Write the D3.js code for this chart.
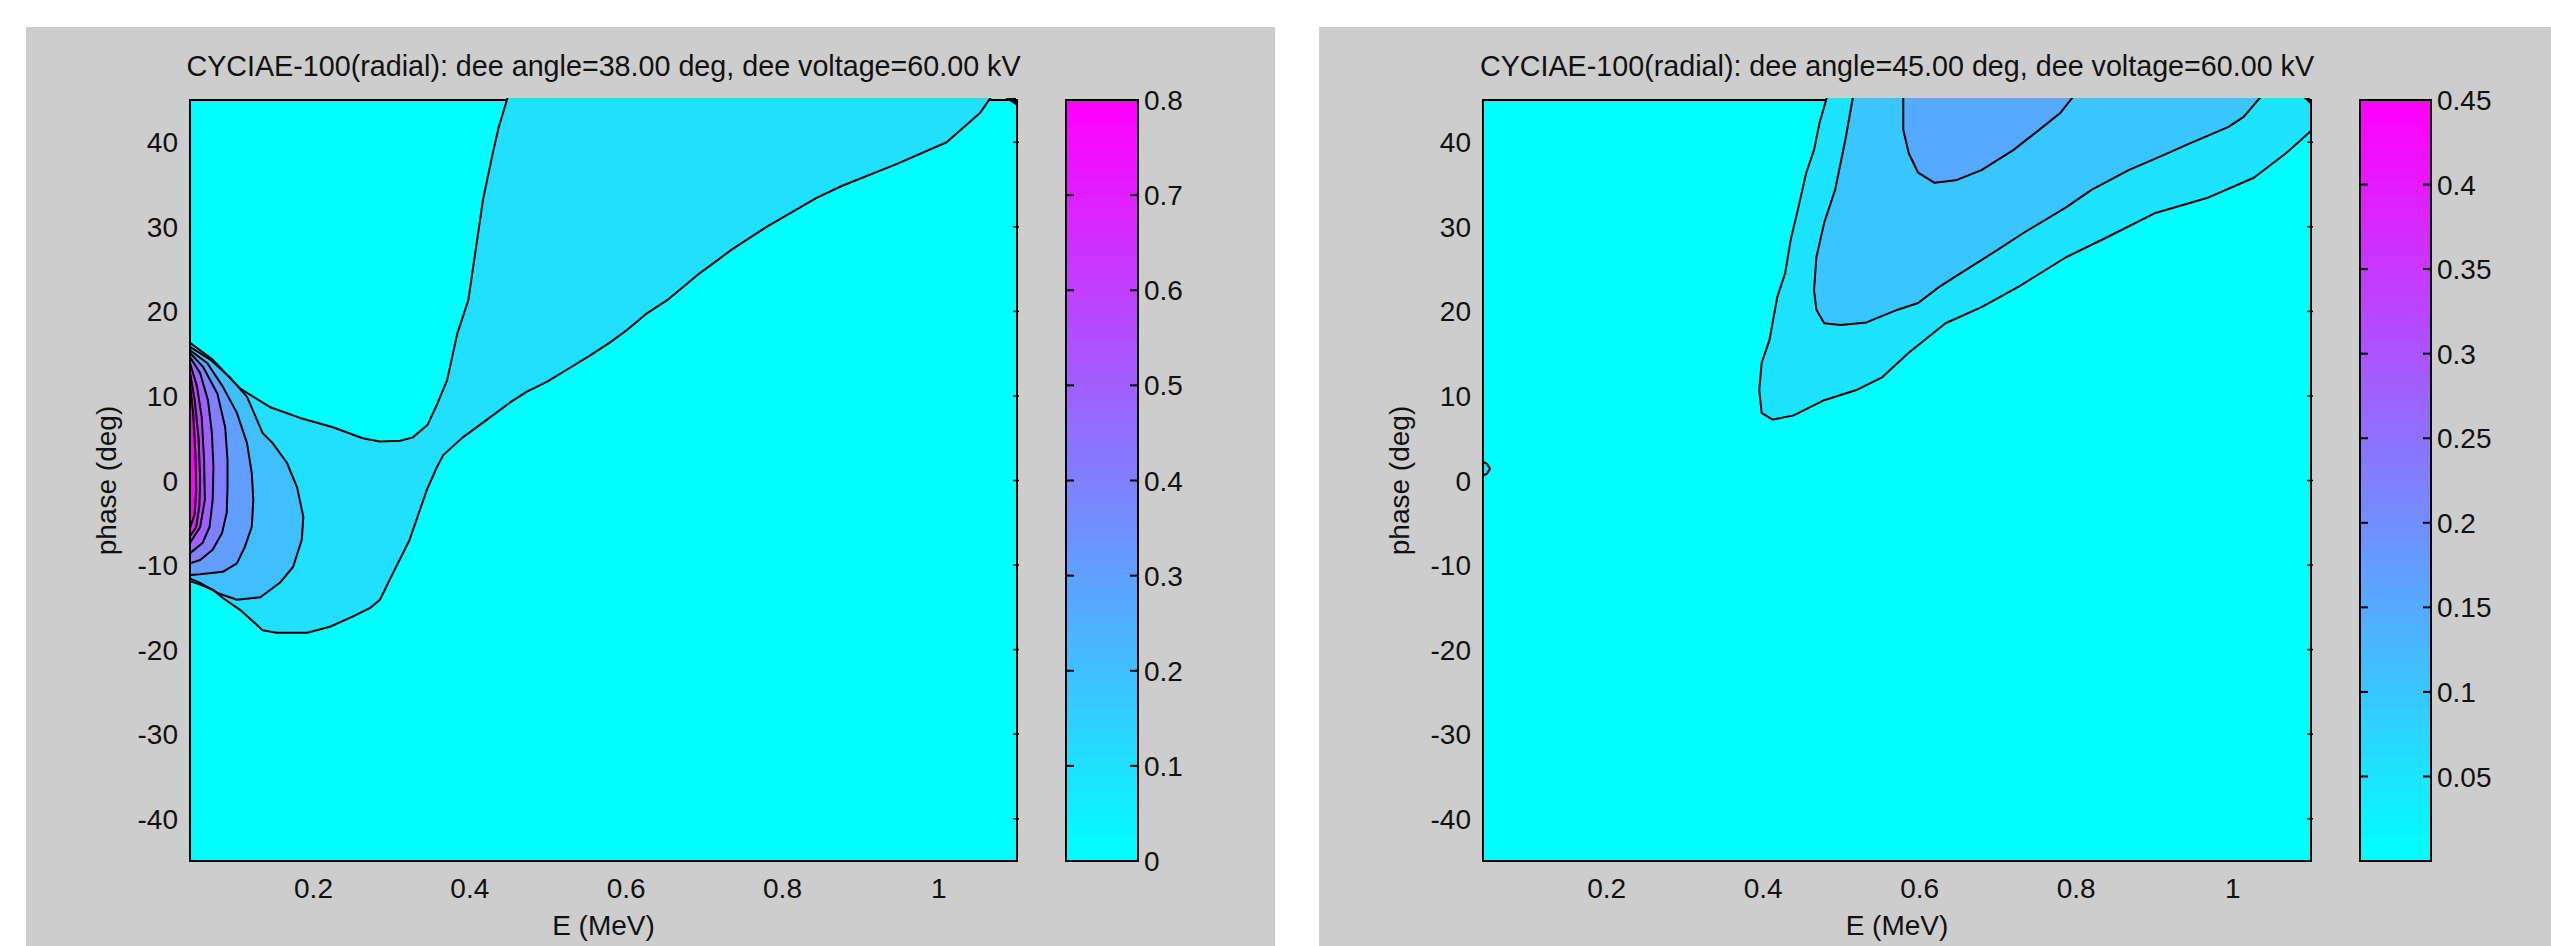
<!DOCTYPE html>
<html>
<head>
<meta charset="utf-8">
<script src="https://cdn.jsdelivr.net/npm/d3@7"></script>
<style>
body { margin: 0; background: #fff; }
text { font-family: "Liberation Sans", Arial, sans-serif; fill: #111; }
</style>
</head>
<body>
<svg id="chart" width="2551" height="946"></svg>
<script>
// ---- data ----
// axes
var eTicks = [0.2, 0.4, 0.6, 0.8, 1];
var phaseTicks = [-40, -30, -20, -10, 0, 10, 20, 30, 40];
var eRange = [0.042, 1.1];
var phaseRange = [-45, 45];

// left chart (dee angle 38 deg), contour lines as [E, phase]
var title1 = "CYCIAE-100(radial): dee angle=38.00 deg, dee voltage=60.00 kV";
var cbMax1 = 0.8;
var cbTicks1 = [0, 0.1, 0.2, 0.3, 0.4, 0.5, 0.6, 0.7, 0.8];
var c1_010a = [[0.042,16.3],[0.071,14.3],[0.106,10.9],[0.144,8.7],[0.183,7.4],[0.225,6.3],[0.263,5.0],[0.285,4.6],[0.311,4.7],[0.327,5.1],[0.346,6.6],[0.359,9.2],[0.371,11.9],[0.384,17.4],[0.398,21.3],[0.417,33.3],[0.430,39.0],[0.437,41.8],[0.449,45.5]];
var c1_010b = [[0.042,-11.9],[0.055,-12.3],[0.071,-12.9],[0.084,-13.9],[0.106,-15.3],[0.135,-17.7],[0.153,-18.0],[0.192,-18.0],[0.221,-17.3],[0.250,-16.1],[0.272,-15.1],[0.285,-14.1],[0.302,-10.9],[0.323,-7.0],[0.345,-1.1],[0.358,1.6],[0.366,3.0],[0.391,5.1],[0.422,7.2],[0.451,9.2],[0.473,10.5],[0.499,11.7],[0.524,13.1],[0.554,14.8],[0.579,16.3],[0.601,17.8],[0.627,19.8],[0.652,21.3],[0.694,24.5],[0.735,27.3],[0.778,29.9],[0.843,33.4],[0.875,34.8],[0.948,37.5],[1.010,40.0],[1.053,43.5],[1.068,45.5]];
var c1_020 = [[0.042,15.8],[0.068,14.3],[0.093,12.2],[0.115,9.9],[0.135,5.6],[0.148,4.4],[0.166,2.1],[0.179,-0.8],[0.187,-4.3],[0.185,-7.0],[0.174,-10.2],[0.157,-12.1],[0.132,-13.8],[0.102,-14.1],[0.077,-13.3],[0.055,-12.1],[0.042,-11.6]];
var c1_030 = [[0.042,15.4],[0.064,13.9],[0.084,11.1],[0.102,8.0],[0.115,4.4],[0.121,0.9],[0.123,-2.3],[0.121,-5.5],[0.112,-7.9],[0.102,-9.8],[0.084,-10.8],[0.055,-11.1],[0.042,-11.2]];
var c1_040 = [[0.042,15.1],[0.059,13.4],[0.077,10.3],[0.087,6.3],[0.090,2.4],[0.090,-0.8],[0.089,-3.8],[0.083,-6.2],[0.071,-8.2],[0.055,-9.4],[0.042,-9.8]];
var c1_050 = [[0.042,14.6],[0.055,12.7],[0.065,9.5],[0.070,5.6],[0.072,1.6],[0.071,-2.3],[0.067,-5.5],[0.058,-7.4],[0.042,-8.6]];
var c1_060 = [[0.042,13.9],[0.051,11.1],[0.057,7.5],[0.060,2.4],[0.061,-2.3],[0.055,-5.5],[0.042,-7.4]];
var c1_070 = [[0.042,12.8],[0.048,9.5],[0.053,5.0],[0.055,0.0],[0.054,-3.0],[0.050,-5.5],[0.042,-6.6]];
var c1_080 = [[0.042,11.5],[0.046,8.0],[0.049,3.0],[0.050,-1.0],[0.048,-4.0],[0.042,-5.6]];
var spot1 = [[1.081,45.5],[1.105,45.5],[1.105,44.0]];

// right chart (dee angle 45 deg)
var title2 = "CYCIAE-100(radial): dee angle=45.00 deg, dee voltage=60.00 kV";
var cbMax2 = 0.45;
var cbTicks2 = [0.05, 0.1, 0.15, 0.2, 0.25, 0.3, 0.35, 0.4, 0.45];
var c2_005 = [[0.482,45.5],[0.472,42.3],[0.465,39.1],[0.455,36.4],[0.445,32.3],[0.435,28.4],[0.428,24.5],[0.418,21.7],[0.408,16.6],[0.398,13.9],[0.395,10.7],[0.398,8.0],[0.412,7.2],[0.439,7.7],[0.478,9.5],[0.519,10.7],[0.552,12.2],[0.586,15.1],[0.633,18.6],[0.679,20.5],[0.726,22.9],[0.787,26.4],[0.840,28.8],[0.900,31.6],[0.967,33.4],[1.027,35.8],[1.068,38.7],[1.097,41.1],[1.105,41.8]];
var c2_005corner = [[1.11,46]];
var c2_005blip = [[0.042,2.2],[0.047,2.0],[0.051,1.4],[0.047,0.8],[0.042,0.6]];
var c2_010 = [[0.515,45.5],[0.505,40.3],[0.492,34.4],[0.478,30.5],[0.468,26.4],[0.465,22.5],[0.468,20.2],[0.478,18.6],[0.499,18.4],[0.532,18.7],[0.572,20.2],[0.598,21.0],[0.625,22.9],[0.652,24.5],[0.700,27.3],[0.733,29.3],[0.787,32.3],[0.820,34.4],[0.867,36.7],[0.907,38.3],[0.946,39.9],[0.994,41.8],[1.014,43.0],[1.037,45.5]];
var c2_015 = [[0.579,45.5],[0.579,41.5],[0.586,38.7],[0.598,36.4],[0.619,35.2],[0.646,35.5],[0.679,36.7],[0.720,39.1],[0.753,41.5],[0.780,43.5],[0.797,45.5]];
var spot2 = [[1.088,45.5],[1.105,45.5],[1.105,44.0]];

function rev(a) { return a.slice().reverse(); }

var charts = [
  {
    title: title1, cbMax: cbMax1, cbTicks: cbTicks1,
    regions: [
      {level: 0.1, parts: [c1_010a, rev(c1_010b)]},
      {level: 0.2, parts: [c1_020]},
      {level: 0.3, parts: [c1_030]},
      {level: 0.4, parts: [c1_040]},
      {level: 0.5, parts: [c1_050]},
      {level: 0.6, parts: [c1_060]},
      {level: 0.7, parts: [c1_070]},
      {level: 0.8, parts: [c1_080]}
    ],
    lines: [c1_010a, c1_010b, c1_020, c1_030, c1_040, c1_050, c1_060, c1_070, c1_080],
    spots: [spot1],
    box: {bgL: 26, bgR: 1275, l: 190, r: 1017, cbL: 1066, cbR: 1138}
  },
  {
    title: title2, cbMax: cbMax2, cbTicks: cbTicks2,
    regions: [
      {level: 0.05, parts: [c2_005, c2_005corner]},
      {level: 0.05, parts: [c2_005blip]},
      {level: 0.1, parts: [c2_010]},
      {level: 0.15, parts: [c2_015]}
    ],
    lines: [c2_005, c2_005blip, c2_010, c2_015],
    spots: [spot2],
    box: {bgL: 1319, bgR: 2551, l: 1483, r: 2311, cbL: 2360, cbR: 2431}
  }
];

// ---- drawing ----
var svg = d3.select("#chart");
var plotTop = 100, plotBottom = 861;
var fontSize = 28;

// matlab "cool" colormap
function cool(t) {
  t = Math.max(0, Math.min(1, t));
  return d3.rgb(255 * t, 255 * (1 - t), 255).toString();
}

charts.forEach(function (c, k) {
  var b = c.box;
  var x = d3.scaleLinear().domain(eRange).range([b.l, b.r]);
  var y = d3.scaleLinear().domain(phaseRange).range([plotBottom, plotTop]);
  var cb = d3.scaleLinear().domain([0, c.cbMax]).range([plotBottom, plotTop]);
  var line = d3.line().x(function (d) { return x(d[0]); }).y(function (d) { return y(d[1]); });

  var g = svg.append("g");

  g.append("rect")
    .attr("x", b.bgL).attr("y", 27)
    .attr("width", b.bgR - b.bgL).attr("height", 946 - 27)
    .attr("fill", "#cdcdcd");

  // frame below the fills
  g.append("rect")
    .attr("x", b.l).attr("y", plotTop)
    .attr("width", b.r - b.l).attr("height", plotBottom - plotTop)
    .attr("fill", cool(0))
    .attr("stroke", "#000").attr("stroke-width", 2);

  var clipId = "clip" + k;
  g.append("clipPath").attr("id", clipId)
    .append("rect")
    .attr("x", b.l + 1).attr("y", plotTop - 2)
    .attr("width", b.r - b.l - 2).attr("height", plotBottom - plotTop + 1);

  var plot = g.append("g").attr("clip-path", "url(#" + clipId + ")");

  c.regions.forEach(function (r) {
    var pts = [].concat.apply([], r.parts);
    plot.append("path")
      .attr("d", line(pts) + "Z")
      .attr("fill", cool(r.level / c.cbMax));
  });

  c.lines.forEach(function (l) {
    plot.append("path")
      .attr("d", line(l))
      .attr("fill", "none")
      .attr("stroke", "#000")
      .attr("stroke-width", 2)
      .attr("stroke-linejoin", "round");
  });

  c.spots.forEach(function (s) {
    plot.append("path").attr("d", line(s) + "Z").attr("fill", "#000");
  });

  // little ticks on the right edge
  g.selectAll(".rtick").data(phaseTicks).enter().append("line")
    .attr("x1", b.r - 4).attr("x2", b.r + 2)
    .attr("y1", function (d) { return y(d); })
    .attr("y2", function (d) { return y(d); })
    .attr("stroke", "#000").attr("stroke-width", 1.5);

  // tick labels
  g.selectAll(".xl").data(eTicks).enter().append("text")
    .attr("x", function (d) { return x(d); })
    .attr("y", 898)
    .attr("text-anchor", "middle")
    .style("font-size", fontSize + "px")
    .text(function (d) { return String(d); });

  g.selectAll(".yl").data(phaseTicks).enter().append("text")
    .attr("x", b.l - 12)
    .attr("y", function (d) { return y(d); })
    .attr("dy", "0.36em")
    .attr("text-anchor", "end")
    .style("font-size", fontSize + "px")
    .text(function (d) { return String(d); });

  g.append("text")
    .attr("x", (b.l + b.r) / 2).attr("y", 935)
    .attr("text-anchor", "middle")
    .style("font-size", fontSize + "px")
    .text("E (MeV)");

  g.append("text")
    .attr("transform", "translate(" + (b.l - 74) + "," + ((plotTop + plotBottom) / 2) + ") rotate(-90)")
    .attr("text-anchor", "middle")
    .style("font-size", fontSize + "px")
    .text("phase (deg)");

  g.append("text")
    .attr("x", (b.l + b.r) / 2).attr("y", 76)
    .attr("text-anchor", "middle")
    .style("font-size", "28.7px")
    .text(c.title);

  // colorbar
  var n = 64;
  var steps = d3.range(n);
  g.selectAll(".cb").data(steps).enter().append("rect")
    .attr("x", b.cbL)
    .attr("width", b.cbR - b.cbL)
    .attr("y", function (i) { return cb((i + 1) / n * c.cbMax); })
    .attr("height", function (i) { return cb(i / n * c.cbMax) - cb((i + 1) / n * c.cbMax) + 0.6; })
    .attr("fill", function (i) { return cool(i / (n - 1)); });

  g.append("rect")
    .attr("x", b.cbL).attr("y", plotTop)
    .attr("width", b.cbR - b.cbL).attr("height", plotBottom - plotTop)
    .attr("fill", "none").attr("stroke", "#000").attr("stroke-width", 2);

  g.selectAll(".cbtl").data(c.cbTicks).enter().append("line")
    .attr("x1", b.cbL).attr("x2", b.cbL + 8)
    .attr("y1", function (d) { return cb(d); }).attr("y2", function (d) { return cb(d); })
    .attr("stroke", "#000").attr("stroke-width", 2);
  g.selectAll(".cbtr").data(c.cbTicks).enter().append("line")
    .attr("x1", b.cbR - 8).attr("x2", b.cbR)
    .attr("y1", function (d) { return cb(d); }).attr("y2", function (d) { return cb(d); })
    .attr("stroke", "#000").attr("stroke-width", 2);

  g.selectAll(".cbl").data(c.cbTicks).enter().append("text")
    .attr("x", b.cbR + 6)
    .attr("y", function (d) { return cb(d); })
    .attr("dy", "0.36em")
    .style("font-size", fontSize + "px")
    .text(function (d) { return String(d); });
});
</script>
</body>
</html>
